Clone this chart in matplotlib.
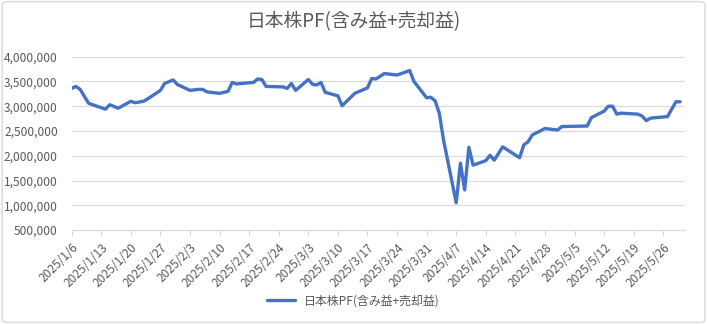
import numpy as np
import pandas as pd
import matplotlib
matplotlib.use("Agg")
import matplotlib.pyplot as plt
import matplotlib.transforms as mtransforms
from matplotlib.ticker import FuncFormatter, MultipleLocator
from matplotlib.patches import FancyBboxPatch

# データ
dates = [
    "2025-01-06", "2025-01-07", "2025-01-08", "2025-01-10", "2025-01-14", "2025-01-15",
    "2025-01-17", "2025-01-20", "2025-01-21", "2025-01-23", "2025-01-24", "2025-01-27",
    "2025-01-28", "2025-01-30", "2025-01-31", "2025-02-03", "2025-02-05", "2025-02-06",
    "2025-02-07", "2025-02-10", "2025-02-12", "2025-02-13", "2025-02-14", "2025-02-18",
    "2025-02-19", "2025-02-20", "2025-02-21", "2025-02-25", "2025-02-26", "2025-02-27",
    "2025-02-28", "2025-03-03", "2025-03-04", "2025-03-05", "2025-03-06", "2025-03-07",
    "2025-03-10", "2025-03-11", "2025-03-14", "2025-03-17", "2025-03-18", "2025-03-19",
    "2025-03-21", "2025-03-24", "2025-03-27", "2025-03-28", "2025-03-31", "2025-04-01",
    "2025-04-02", "2025-04-03", "2025-04-04", "2025-04-07", "2025-04-08", "2025-04-09",
    "2025-04-10", "2025-04-11", "2025-04-14", "2025-04-15", "2025-04-16", "2025-04-18",
    "2025-04-22", "2025-04-23", "2025-04-24", "2025-04-25", "2025-04-28", "2025-05-01",
    "2025-05-02", "2025-05-08", "2025-05-09", "2025-05-12", "2025-05-13", "2025-05-14",
    "2025-05-15", "2025-05-16", "2025-05-20", "2025-05-21", "2025-05-22", "2025-05-23",
    "2025-05-27", "2025-05-29", "2025-05-30",
]
values = [
    3360000, 3400000, 3340000, 3060000, 2940000, 3030000,
    2960000, 3100000, 3070000, 3100000, 3150000, 3320000,
    3460000, 3530000, 3440000, 3320000, 3340000, 3340000,
    3290000, 3260000, 3300000, 3480000, 3450000, 3480000,
    3550000, 3540000, 3400000, 3390000, 3360000, 3460000,
    3320000, 3540000, 3440000, 3430000, 3480000, 3280000,
    3210000, 3010000, 3260000, 3370000, 3560000, 3550000,
    3660000, 3630000, 3720000, 3500000, 3170000, 3180000,
    3110000, 2860000, 2320000, 1050000, 1850000, 1310000,
    2170000, 1810000, 1900000, 2010000, 1910000, 2180000,
    1960000, 2220000, 2280000, 2420000, 2550000, 2520000,
    2590000, 2600000, 2770000, 2900000, 3000000, 3000000,
    2840000, 2860000, 2840000, 2800000, 2710000, 2760000,
    2790000, 3090000, 3090000,
]
series_name = "日本株PF(含み益+売却益)"
title = "日本株PF(含み益+売却益)"

plt.rcParams['font.family'] = ['Noto Sans CJK JP', 'DejaVu Sans']

x = pd.to_datetime(dates)
ticks = pd.date_range("2025-01-06", "2025-05-26", freq="7D")

fig = plt.figure(figsize=(7.07, 3.24), dpi=100)
ax = fig.add_axes([0.1014, 0.290, 0.8676, 0.535])

ax.plot(x, values, color="#4472C4", lw=2.4, solid_joinstyle="round",
        solid_capstyle="round", label=series_name)

ax.set_ylim(500000, 4000000)
ax.yaxis.set_major_locator(MultipleLocator(500000))
ax.yaxis.set_major_formatter(FuncFormatter(lambda v, p: f"{v:,.0f}"))
ax.set_xlim(pd.Timestamp("2025-01-06"), pd.Timestamp("2025-05-31 04:00"))
ax.set_xticks(ticks)
ax.set_xticklabels([f"{d.year}/{d.month}/{d.day}" for d in ticks],
                   rotation=45, ha="right", rotation_mode="anchor")

# ラベルを少し右下にずらす
offset = mtransforms.ScaledTranslation(7 / 100, -3 / 100, fig.dpi_scale_trans)
for lab in ax.get_xticklabels():
    lab.set_transform(lab.get_transform() + offset)

ax.grid(axis="y", color="#D9D9D9", lw=0.8)
ax.set_axisbelow(True)
for s in ["top", "right", "left"]:
    ax.spines[s].set_visible(False)
ax.spines["bottom"].set_color("#D9D9D9")
ax.spines["bottom"].set_linewidth(0.8)

ax.tick_params(axis="y", length=0, pad=10, labelsize=8.6, labelcolor="#595959")
ax.tick_params(axis="x", length=4, width=0.8, color="#D9D9D9", pad=4,
               labelsize=8.6, labelcolor="#595959")

fig.text(0.5, 1 - 22 / 324, title, ha="center", va="center",
         fontsize=13.5, color="#595959")

fig.legend(loc="center", bbox_to_anchor=(0.5, 1 - 301 / 324), frameon=False,
           fontsize=8.6, handlelength=2.3, labelcolor="#595959")

# 枠線
fig.patches.append(FancyBboxPatch((0.003, 0.005), 0.994, 0.99,
                                  boxstyle="round,pad=0,rounding_size=0.008",
                                  transform=fig.transFigure, fill=False,
                                  ec="#D9D9D9", lw=1))

fig.savefig("out.png", dpi=100)
